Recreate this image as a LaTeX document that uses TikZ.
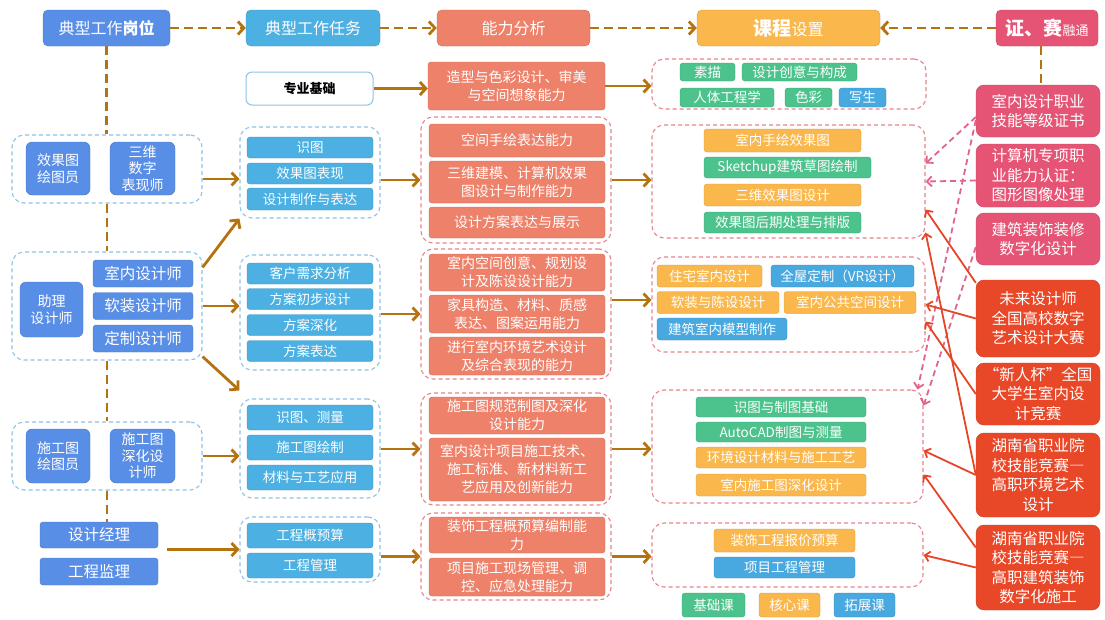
\documentclass[tikz,border=0pt]{standalone}
\usepackage{fontspec}
\newfontfamily\cjk{Noto Sans CJK SC}
\usepackage{tikz}
\usetikzlibrary{positioning, arrows.meta}
\definecolor{postblue}{RGB}{89,142,230}
\definecolor{taskblue}{RGB}{76,176,226}
\definecolor{salmon}{RGB}{238,129,106}
\definecolor{crsgreen}{RGB}{76,194,140}
\definecolor{crsorange}{RGB}{250,183,75}
\definecolor{crsblue}{RGB}{72,168,224}
\definecolor{certpink}{RGB}{230,84,117}
\definecolor{compred}{RGB}{233,72,40}
\definecolor{arrowbrown}{RGB}{181,115,15}
\definecolor{grpblue}{RGB}{140,195,230}
\definecolor{grppink}{RGB}{232,130,140}
\definecolor{linkpink}{RGB}{225,100,140}
\definecolor{linkred}{RGB}{230,70,40}
\newcommand{\fhead}{\cjk\fontsize{16}{19}\selectfont}
\newcommand{\fpost}{\cjk\fontsize{14}{16.5}\selectfont}
\newcommand{\fpostbig}{\cjk\fontsize{15.5}{18}\selectfont}
\newcommand{\fitem}{\cjk\fontsize{13.5}{16}\selectfont}
\newcommand{\fabil}{\cjk\fontsize{14}{18}\selectfont}
\newcommand{\fright}{\cjk\fontsize{15.5}{19.5}\selectfont}
\tikzset{
	box/.style n args={1}{
		draw=#1!85!black, % Slightly darker rim
		fill=#1, % Fill colour from the parameter
		rounded corners=3pt, % Soft corners
		text=white, % White label
		align=center, % Centred lines
		inner sep=0pt
	},
	wh/.style 2 args={minimum width=#1pt, minimum height=#2pt},
	group/.style n args={1}{
		draw=#1, % Dashed frame colour
		dash pattern=on 4pt off 3pt,
		line width=1.1pt,
		rounded corners=12pt,
		inner sep=0pt
	},
	flow/.style={draw=arrowbrown, line width=2.8pt, -{Straight Barb[length=6pt,width=13pt]}},
	dflow/.style={flow, dash pattern=on 9pt off 5pt},
	dline/.style={draw=arrowbrown, line width=2.6pt, dash pattern=on 9pt off 5pt},
	certlink/.style={draw=linkpink, line width=1.8pt, dash pattern=on 6pt off 4pt, -{Straight Barb[length=5pt,width=10pt]}},
	complink/.style={draw=linkred, line width=1.8pt, -{Straight Barb[length=5pt,width=10pt]}}
}
\begin{document}
\begin{tikzpicture}[x=1pt, y=-1pt]
	\fill[white] (0,0) rectangle (1105,619);
	\useasboundingbox (0,0) rectangle (1105,619);
	
	% header row
	\node[box=postblue, wh={127}{36}, rounded corners=5pt, font=\fhead] (hpost) at (106.5,28) {典型工作\textbf{岗位}};
	\node[box=taskblue, wh={134}{36}, rounded corners=5pt, font=\fhead] (htask) at (313,28) {典型工作任务};
	\node[box=salmon, wh={153}{36}, rounded corners=5pt, font=\fhead] (hab) at (513.5,28) {能力分析};
	\node[box=crsorange, wh={183}{36}, rounded corners=5pt, font=\fhead] (hcrs) at (788.5,28) {{\fontsize{19}{20}\selectfont\bfseries 课程}设置};
	\node[box=certpink, wh={102}{36}, rounded corners=5pt, font=\fhead] (hcert) at (1047,28) {{\fontsize{19}{20}\selectfont\bfseries 证、赛}{\fontsize{13}{14}\selectfont 融通}};
	\draw[dflow] (hpost) -- (htask);
	\draw[dflow] (htask) -- (hab);
	\draw[dflow] (hab) -- (hcrs);
	\draw[dflow] (hcert) -- (hcrs);
	
	% typical posts
	\node[group=grpblue, wh={190}{68}] (grp1) at (107,169) {};
	\node[box=postblue, wh={64}{53}, rounded corners=6pt, font=\fpost] (p1a) at (58,168.5) {效果图\\绘图员};
	\node[box=postblue, wh={65}{53}, rounded corners=6pt, font=\fpost] (p1b) at (142.5,168.5) {三维\\数字\\表现师};
	\node[group=grpblue, wh={190}{108}] (grp2) at (107,306) {};
	\node[box=postblue, wh={63}{55}, rounded corners=6pt, font=\fpost] (p2) at (51.5,309.5) {助理\\设计师};
	\node[box=postblue, wh={100}{27}, font=\fpostbig] (p2a) at (143,273.5) {室内设计师};
	\node[box=postblue, wh={100}{27}, font=\fpostbig] (p2b) at (143,306) {软装设计师};
	\node[box=postblue, wh={100}{27}, font=\fpostbig] (p2c) at (143,338.5) {定制设计师};
	\node[group=grpblue, wh={190}{68}] (grp3) at (107,456) {};
	\node[box=postblue, wh={64}{54}, rounded corners=6pt, font=\fpost] (p3a) at (58,456) {施工图\\绘图员};
	\node[box=postblue, wh={65}{54}, rounded corners=6pt, font=\fpost] (p3b) at (142.5,456) {施工图\\深化设\\计师};
	\node[box=postblue, wh={118}{26}, font=\fpostbig] (p4a) at (99,535) {设计经理};
	\node[box=postblue, wh={118}{27}, font=\fpostbig] (p4b) at (99,571.5) {工程监理};
	\coordinate (mgr) at (167,549.5);
	\draw[dline] (hpost.south) -- (hpost.south |- grp1.north);
	\draw[dline] (grp1.south) -- (grp2.north);
	\draw[dline] (grp2.south) -- (grp3.north);
	\draw[dline] (grp3.south) -- (grp3.south |- p4a.north);
	
	% typical tasks
	\node[draw=grpblue, fill=white, line width=1pt, rounded corners=6pt, wh={127}{33}, font=\cjk\fontsize{13}{15}\selectfont\bfseries] (basic) at (309.5,88.5) {专业基础};
	\node[group=grpblue, wh={140}{91}] (tg1) at (310,172.5) {};
	\node[box=taskblue, wh={126}{21}, font=\fitem] (t1a) at (310,147.5) {识图};
	\node[box=taskblue, wh={126}{21}, font=\fitem] (t1b) at (310,173.5) {效果图表现};
	\node[box=taskblue, wh={126}{22}, font=\fitem] (t1c) at (310,199) {设计制作与表达};
	\node[group=grpblue, wh={140}{115}] (tg2) at (310,312.5) {};
	\node[box=taskblue, wh={126}{21}, font=\fitem] (t2a) at (310,273.5) {客户需求分析};
	\node[box=taskblue, wh={126}{21}, font=\fitem] (t2b) at (310,299) {方案初步设计};
	\node[box=taskblue, wh={126}{21}, font=\fitem] (t2c) at (310,325) {方案深化};
	\node[box=taskblue, wh={126}{21}, font=\fitem] (t2d) at (310,351) {方案表达};
	\node[group=grpblue, wh={140}{99}] (tg3) at (310,448.5) {};
	\node[box=taskblue, wh={126}{25}, font=\fitem] (t3a) at (310,417.5) {识图、测量};
	\node[box=taskblue, wh={126}{25}, font=\fitem] (t3b) at (310,447.5) {施工图绘制};
	\node[box=taskblue, wh={126}{25}, font=\fitem] (t3c) at (310,477.5) {材料与工艺应用};
	\node[group=grpblue, wh={140}{65}] (tg4) at (310,549.5) {};
	\node[box=taskblue, wh={126}{25}, font=\fitem] (t4a) at (310,535.5) {工程概预算};
	\node[box=taskblue, wh={126}{25}, font=\fitem] (t4b) at (310,565.5) {工程管理};
	\draw[flow] ([yshift=-10pt]grp1.east) -- ([yshift=-10pt]grp1.east -| tg1.west);
	\draw[flow] (grp2.22) -- (tg1.south west);
	\draw[flow] (grp2.east) -- (grp2.east -| tg2.west);
	\draw[flow] ([yshift=4pt]grp2.south east) -- ([yshift=8pt]tg3.north west);
	\draw[flow] (grp3.east) -- (grp3.east -| tg3.west);
	\draw[flow] (mgr) -- (tg4.west);
	
	% abilities
	\node[box=salmon, wh={177}{48}, font=\fabil] (a0) at (516.5,86) {造型与色彩设计、审美\\与空间想象能力};
	\node[group=grppink, wh={190}{126}] (ag1) at (516,180) {};
	\node[box=salmon, wh={176}{33}, font=\fabil] (a1a) at (517,140.5) {空间手绘表达能力};
	\node[box=salmon, wh={176}{42}, font=\fabil] (a1b) at (517,182) {三维建模、计算机效果\\图设计与制作能力};
	\node[box=salmon, wh={176}{31}, font=\fabil] (a1c) at (517,222.5) {设计方案表达与展示};
	\node[group=grppink, wh={190}{130}] (ag2) at (516,314) {};
	\node[box=salmon, wh={176}{37}, font=\fabil] (a2a) at (517,272.5) {室内空间创意、规划设\\计及陈设设计能力};
	\node[box=salmon, wh={176}{38}, font=\fabil] (a2b) at (517,314) {家具构造、材料、质感\\表达、图案运用能力};
	\node[box=salmon, wh={176}{38}, font=\fabil] (a2c) at (517,356) {进行室内环境艺术设计\\及综合表现的能力};
	\node[group=grppink, wh={190}{112}] (ag3) at (516,449) {};
	\node[box=salmon, wh={176}{37}, font=\fabil] (a3a) at (517,415.5) {施工图规范制图及深化\\设计能力};
	\node[box=salmon, wh={176}{63}, font=\fabil] (a3b) at (517,469.5) {室内设计项目施工技术、\\施工标准、新材料新工\\艺应用及创新能力};
	\node[group=grppink, wh={190}{87}] (ag4) at (516,556.5) {};
	\node[box=salmon, wh={176}{36}, font=\fabil] (a4a) at (517,535) {装饰工程概预算编制能\\力};
	\node[box=salmon, wh={176}{38}, font=\fabil] (a4b) at (517,577) {项目施工现场管理、调\\控、应急处理能力};
	\draw[flow] (basic) -- (basic -| a0.west);
	\draw[flow] (tg1.east |- ag1.west) -- (ag1.west);
	\draw[flow] (tg2.east |- ag2.west) -- (ag2.west);
	\draw[flow] (tg3.east |- ag3.west) -- (ag3.west);
	\draw[flow] (tg4.east |- ag4.west) -- (ag4.west);
	
	% courses
	\node[group=grppink, wh={274}{50}] (cg1) at (789,84) {};
	\node[box=crsgreen, wh={55}{18}, font=\fitem] (c1a) at (707.5,72) {素描};
	\node[box=crsgreen, wh={115}{18}, font=\fitem] (c1b) at (799.5,72) {设计创意与构成};
	\node[box=crsgreen, wh={94}{19}, font=\fitem] (c1c) at (727,97.5) {人体工程学};
	\node[box=crsgreen, wh={47}{19}, font=\fitem] (c1d) at (808.5,97.5) {色彩};
	\node[box=crsblue, wh={47}{19}, font=\fitem] (c1e) at (862.5,97.5) {写生};
	\node[group=grppink, wh={273}{113}] (cg2) at (788.5,181.5) {};
	\node[box=crsorange, wh={157}{23}, font=\fitem] (c2a) at (782.5,140.5) {室内手绘效果图};
	\node[box=crsgreen, wh={167}{21}, font=\fitem] (c2b) at (787.5,167.5) {Sketchup建筑草图绘制};
	\node[box=crsorange, wh={157}{22}, font=\fitem] (c2c) at (782.5,195) {三维效果图设计};
	\node[box=crsgreen, wh={157}{21}, font=\fitem] (c2d) at (782.5,222.5) {效果图后期处理与排版};
	\node[group=grppink, wh={273}{95}] (cg3) at (788.5,304.5) {};
	\node[box=crsorange, wh={105}{22}, font=\fitem] (c3a) at (709.5,276) {住宅室内设计};
	\node[box=crsblue, wh={143}{22}, font=\fitem] (c3b) at (842.5,276) {全屋定制（VR设计）};
	\node[box=crsorange, wh={122}{22}, font=\fitem] (c3c) at (718,302.5) {软装与陈设设计};
	\node[box=crsorange, wh={132}{22}, font=\fitem] (c3d) at (850,302.5) {室内公共空间设计};
	\node[box=crsblue, wh={130}{22}, font=\fitem] (c3e) at (722,329) {建筑室内模型制作};
	\node[group=grppink, wh={271}{113}] (cg4) at (787.5,446.5) {};
	\node[box=crsgreen, wh={170}{20}, font=\fitem] (c4a) at (781,407) {识图与制图基础};
	\node[box=crsgreen, wh={170}{20}, font=\fitem] (c4b) at (781,432) {AutoCAD制图与测量};
	\node[box=crsorange, wh={170}{21}, font=\fitem] (c4c) at (781,457.5) {环境设计材料与施工工艺};
	\node[box=crsorange, wh={170}{22}, font=\fitem] (c4d) at (781,485) {室内施工图深化设计};
	\node[group=grppink, wh={271}{64}] (cg5) at (787.5,555) {};
	\node[box=crsorange, wh={141}{23}, font=\fitem] (c5a) at (784.5,540.5) {装饰工程报价预算};
	\node[box=crsblue, wh={141}{21}, font=\fitem] (c5b) at (784.5,567.5) {项目工程管理};
	\node[box=crsgreen, wh={63}{24}, font=\fitem] (key1) at (713.5,605) {基础课};
	\node[box=crsorange, wh={61}{24}, font=\fitem] (key2) at (789.5,605) {核心课};
	\node[box=crsblue, wh={61}{24}, font=\fitem] (key3) at (864.5,605) {拓展课};
	\draw[flow] (a0.east) -- (a0.east -| cg1.west);
	\draw[flow] (ag1.east) -- (ag1.east -| cg2.west);
	\draw[flow] ([yshift=14pt]ag2.east) -- ([yshift=14pt]ag2.east -| cg3.west);
	\draw[flow] (ag3.east) -- (ag3.east -| cg4.west);
	\draw[flow] (ag4.east) -- (ag4.east -| cg5.west);
	
	% certificates and contests
	\node[box=certpink, wh={124}{52}, rounded corners=8pt, font=\fright] (cert1) at (1038,111) {室内设计职业\\技能等级证书};
	\node[box=certpink, wh={124}{63}, rounded corners=8pt, font=\fright] (cert2) at (1038,175.5) {计算机专项职\\业能力认证：\\图形图像处理};
	\node[box=certpink, wh={124}{52}, rounded corners=8pt, font=\fright] (cert3) at (1038,239) {建筑装饰装修\\数字化设计};
	\node[box=compred, wh={124}{77}, rounded corners=8pt, font=\fright] (comp1) at (1038,318.5) {未来设计师\\全国高校数字\\艺术设计大赛};
	\node[box=compred, wh={124}{62}, rounded corners=8pt, font=\fright] (comp2) at (1038,394) {“新人杯”全国\\大学生室内设\\计竞赛};
	\node[box=compred, wh={124}{84}, rounded corners=8pt, font=\fright] (comp3) at (1038,475) {湖南省职业院\\校技能竞赛―\\高职环境艺术\\设计};
	\node[box=compred, wh={124}{85}, rounded corners=8pt, font=\fright] (comp4) at (1038,567.5) {湖南省职业院\\校技能竞赛―\\高职建筑装饰\\数字化施工};
	\draw[dline] ([xshift=-6pt]hcert.south) -- ([xshift=-6pt]hcert.south |- cert1.north);
	\draw[certlink] ([yshift=-6pt]cert1.west) -- ([yshift=18pt]cg2.east);
	\draw[certlink] ([yshift=-5pt]cert2.west) -- (cg2.east);
	\draw[certlink] ([yshift=-9pt]cert1.west) -- ([xshift=-6pt]cg4.north east);
	\draw[certlink] ([yshift=-8pt]cert3.west) -- ([yshift=41pt]cg4.east);
	\draw[complink] ([yshift=-3pt]comp1.north west) -- ([yshift=-28pt]cg2.east);
	\draw[complink] (comp3.west) -- ([yshift=-51pt]cg2.east);
	\draw[complink] (comp1.west) -- (cg3.east);
	\draw[complink] (comp2.west) -- ([yshift=-17pt]cg3.east);
	\draw[complink] (comp3.west) -- ([yshift=-4pt]cg4.east);
	\draw[complink] ([yshift=20pt]comp4.west) -- ([yshift=-28pt]cg4.east);
	\draw[complink] (comp4.west) -- (cg5.east);
	
\end{tikzpicture}
\end{document}
